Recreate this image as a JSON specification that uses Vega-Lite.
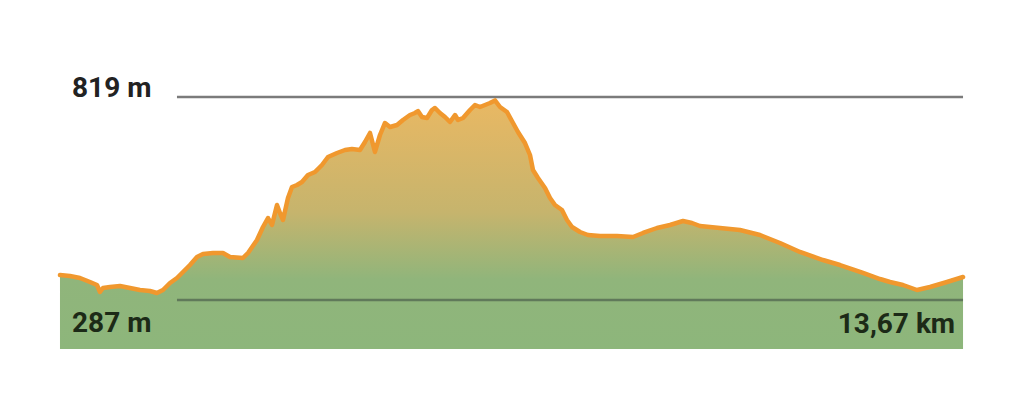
{
  "$schema": "https://vega.github.io/schema/vega-lite/v6.json",
  "width": 1024,
  "height": 400,
  "padding": 0,
  "autosize": {"type": "fit", "contains": "padding"},
  "background": "white",
  "config": {"view": {"stroke": null}},
  "datasets": {
    "profile": [
      {"km": 0.000, "elev": 352.5}, {"km": 0.151, "elev": 349.9}, {"km": 0.303, "elev": 344.7},
      {"km": 0.454, "elev": 334.2}, {"km": 0.560, "elev": 326.3}, {"km": 0.606, "elev": 308.0},
      {"km": 0.651, "elev": 318.4}, {"km": 0.757, "elev": 321.1}, {"km": 0.908, "elev": 323.7},
      {"km": 1.060, "elev": 318.4}, {"km": 1.211, "elev": 313.2}, {"km": 1.362, "elev": 310.6},
      {"km": 1.468, "elev": 305.3}, {"km": 1.559, "elev": 313.2}, {"km": 1.665, "elev": 331.6},
      {"km": 1.771, "elev": 344.7}, {"km": 1.862, "elev": 360.4}, {"km": 1.968, "elev": 378.7},
      {"km": 2.074, "elev": 399.7}, {"km": 2.165, "elev": 407.6}, {"km": 2.316, "elev": 410.2},
      {"km": 2.467, "elev": 410.2}, {"km": 2.573, "elev": 399.7}, {"km": 2.770, "elev": 397.1},
      {"km": 2.846, "elev": 410.2}, {"km": 2.982, "elev": 444.2}, {"km": 3.073, "elev": 478.3},
      {"km": 3.149, "elev": 501.9}, {"km": 3.209, "elev": 483.6}, {"km": 3.285, "elev": 536.0},
      {"km": 3.330, "elev": 515.0}, {"km": 3.376, "elev": 496.7}, {"km": 3.451, "elev": 554.3},
      {"km": 3.512, "elev": 583.1}, {"km": 3.588, "elev": 588.4}, {"km": 3.663, "elev": 596.2},
      {"km": 3.754, "elev": 614.6}, {"km": 3.860, "elev": 622.4}, {"km": 3.966, "elev": 640.8},
      {"km": 4.057, "elev": 661.8}, {"km": 4.193, "elev": 672.2}, {"km": 4.314, "elev": 680.1},
      {"km": 4.420, "elev": 682.7}, {"km": 4.541, "elev": 680.1}, {"km": 4.617, "elev": 701.1},
      {"km": 4.693, "elev": 724.7}, {"km": 4.768, "elev": 674.9}, {"km": 4.844, "elev": 719.4},
      {"km": 4.920, "elev": 750.9}, {"km": 4.996, "elev": 740.4}, {"km": 5.102, "elev": 745.6},
      {"km": 5.192, "elev": 758.7}, {"km": 5.298, "elev": 771.8}, {"km": 5.374, "elev": 777.1},
      {"km": 5.419, "elev": 782.3}, {"km": 5.480, "elev": 766.6}, {"km": 5.556, "elev": 764.0},
      {"km": 5.631, "elev": 784.9}, {"km": 5.677, "elev": 790.2}, {"km": 5.752, "elev": 777.1},
      {"km": 5.828, "elev": 766.6}, {"km": 5.904, "elev": 753.5}, {"km": 5.980, "elev": 771.8},
      {"km": 6.025, "elev": 758.7}, {"km": 6.101, "elev": 764.0}, {"km": 6.207, "elev": 784.9},
      {"km": 6.282, "elev": 798.0}, {"km": 6.358, "elev": 792.8}, {"km": 6.434, "elev": 798.0},
      {"km": 6.509, "elev": 803.3}, {"km": 6.585, "elev": 810.0}, {"km": 6.661, "elev": 792.8},
      {"km": 6.767, "elev": 779.7}, {"km": 6.858, "elev": 750.9}, {"km": 6.933, "elev": 727.3},
      {"km": 7.039, "elev": 698.4}, {"km": 7.115, "elev": 667.0}, {"km": 7.160, "elev": 627.7},
      {"km": 7.236, "elev": 606.7}, {"km": 7.342, "elev": 580.5}, {"km": 7.418, "elev": 554.3},
      {"km": 7.493, "elev": 536.0}, {"km": 7.599, "elev": 522.9}, {"km": 7.675, "elev": 496.7},
      {"km": 7.751, "elev": 478.3}, {"km": 7.872, "elev": 465.2}, {"km": 7.993, "elev": 457.3},
      {"km": 8.175, "elev": 454.7}, {"km": 8.432, "elev": 454.7}, {"km": 8.674, "elev": 452.1},
      {"km": 8.825, "elev": 462.6}, {"km": 9.037, "elev": 475.7}, {"km": 9.234, "elev": 483.6},
      {"km": 9.431, "elev": 494.0}, {"km": 9.567, "elev": 488.8}, {"km": 9.688, "elev": 480.9},
      {"km": 9.991, "elev": 475.7}, {"km": 10.294, "elev": 470.4}, {"km": 10.597, "elev": 457.3},
      {"km": 10.899, "elev": 436.4}, {"km": 11.202, "elev": 412.8}, {"km": 11.550, "elev": 391.8},
      {"km": 11.808, "elev": 378.7}, {"km": 12.156, "elev": 357.8}, {"km": 12.413, "elev": 342.0},
      {"km": 12.565, "elev": 334.2}, {"km": 12.761, "elev": 326.3}, {"km": 12.973, "elev": 313.2},
      {"km": 13.170, "elev": 321.1}, {"km": 13.427, "elev": 334.2}, {"km": 13.670, "elev": 347.3}
    ],
    "maxrule": [{"km": 1.771, "km2": 13.67, "elev": 819}],
    "minrule": [{"km": 1.771, "km2": 13.67, "elev": 287}],
    "toplabel": [{"km": 0.182, "elev": 819, "label": "819 m"}],
    "minlabel": [{"km": 0.182, "elev": 203.1, "label": "287 m"}],
    "distlabel": [{"km": 13.55, "elev": 200.5, "label": "13,67 km"}]
  },
  "layer": [
    {
      "data": {"name": "profile"},
      "mark": {
        "type": "area",
        "fill": {
          "gradient": "linear",
          "x1": 0, "y1": 0, "x2": 0, "y2": 1,
          "stops": [
            {"offset": 0, "color": "#e9b863"},
            {"offset": 0.45, "color": "#c6b46d"},
            {"offset": 0.72, "color": "#90b57b"},
            {"offset": 1, "color": "#8db67b"}
          ]
        }
      },
      "encoding": {
        "x": {"field": "km", "type": "quantitative", "scale": {"domain": [-0.908, 14.593], "nice": false, "zero": false}, "axis": null},
        "y": {"field": "elev", "type": "quantitative", "scale": {"domain": [24.93, 1073.2], "nice": false, "zero": false}, "axis": null},
        "y2": {"datum": 158.6}
      }
    },
    {
      "data": {"name": "maxrule"},
      "mark": {"type": "rule", "color": "#7b7b7b", "strokeWidth": 2.5},
      "encoding": {
        "x": {"field": "km", "type": "quantitative"},
        "x2": {"field": "km2"},
        "y": {"field": "elev", "type": "quantitative"}
      }
    },
    {
      "data": {"name": "minrule"},
      "mark": {"type": "rule", "color": "#60795a", "strokeWidth": 2.5},
      "encoding": {
        "x": {"field": "km", "type": "quantitative"},
        "x2": {"field": "km2"},
        "y": {"field": "elev", "type": "quantitative"}
      }
    },
    {
      "data": {"name": "profile"},
      "mark": {"type": "line", "color": "#f0982e", "strokeWidth": 4.5, "strokeJoin": "round", "strokeCap": "round"},
      "encoding": {
        "x": {"field": "km", "type": "quantitative"},
        "y": {"field": "elev", "type": "quantitative"}
      }
    },
    {
      "data": {"name": "toplabel"},
      "mark": {"type": "text", "font": "Roboto", "fontWeight": "bold", "fontSize": 28, "color": "#222222", "align": "left", "baseline": "alphabetic"},
      "encoding": {
        "x": {"field": "km", "type": "quantitative"},
        "y": {"field": "elev", "type": "quantitative"},
        "text": {"field": "label"}
      }
    },
    {
      "data": {"name": "minlabel"},
      "mark": {"type": "text", "font": "Roboto", "fontWeight": "bold", "fontSize": 28, "color": "#1c2a17", "align": "left", "baseline": "alphabetic"},
      "encoding": {
        "x": {"field": "km", "type": "quantitative"},
        "y": {"field": "elev", "type": "quantitative"},
        "text": {"field": "label"}
      }
    },
    {
      "data": {"name": "distlabel"},
      "mark": {"type": "text", "font": "Roboto", "fontWeight": "bold", "fontSize": 28, "color": "#1c2a17", "align": "right", "baseline": "alphabetic"},
      "encoding": {
        "x": {"field": "km", "type": "quantitative"},
        "y": {"field": "elev", "type": "quantitative"},
        "text": {"field": "label"}
      }
    }
  ]
}
